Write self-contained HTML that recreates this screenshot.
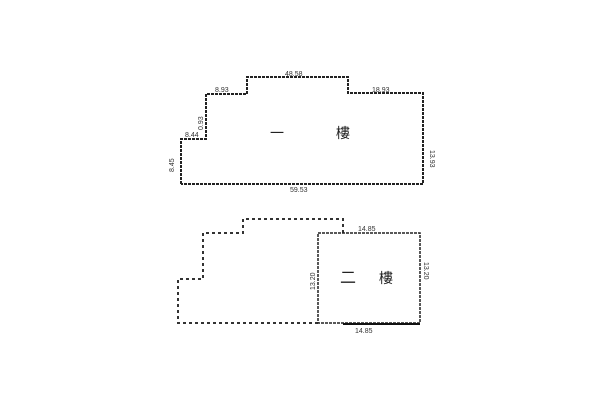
<!DOCTYPE html>
<html><head><style>body{margin:0;background:#fff}svg{display:block}</style></head><body>
<svg width="600" height="400" viewBox="0 0 600 400" xmlns="http://www.w3.org/2000/svg" font-family="Liberation Sans, Noto Sans CJK TC, sans-serif">
<rect width="600" height="400" fill="#fff"/>
<polyline points="181,184 181,139 206,139 206,94 247,94 247,77 348,77 348,93 423,93 423,184 181,184" fill="none" stroke="#222" stroke-width="2" stroke-dasharray="3,1"/>
<g font-size="7" fill="#333">
<text x="285" y="76">48.58</text>
<text x="215" y="92">8.93</text>
<text x="372" y="92">18.93</text>
<text x="185" y="137">8.44</text>
<text x="290" y="192">59.53</text>
<text x="174" y="172" transform="rotate(-90 174 172)">8.45</text>
<text x="203" y="130" transform="rotate(-90 203 130)">0.93</text>
<text x="430" y="150" transform="rotate(90 430 150)">13.93</text>
</g>
<text x="270" y="138" font-size="14" fill="#222">一</text>
<text x="336" y="138" font-size="14" fill="#222">樓</text>
<polyline points="318,323 178,323 178,279 203,279 203,233 243,233 243,219 343,219 343,233" fill="none" stroke="#333" stroke-width="2" stroke-dasharray="3,3"/>
<rect x="318" y="233" width="102" height="90" fill="none" stroke="#222" stroke-width="1.5" stroke-dasharray="3,1"/>
<line x1="343" y1="324" x2="420" y2="324" stroke="#111" stroke-width="2"/>
<g font-size="7" fill="#333">
<text x="358" y="231">14.85</text>
<text x="355" y="333">14.85</text>
<text x="315" y="290" transform="rotate(-90 315 290)">13.20</text>
<text x="424" y="262" transform="rotate(90 424 262)">13.20</text>
</g>
<text x="340" y="283" font-size="16" fill="#222">二</text>
<text x="379" y="283" font-size="14" fill="#222">樓</text>
</svg>
</body></html>
